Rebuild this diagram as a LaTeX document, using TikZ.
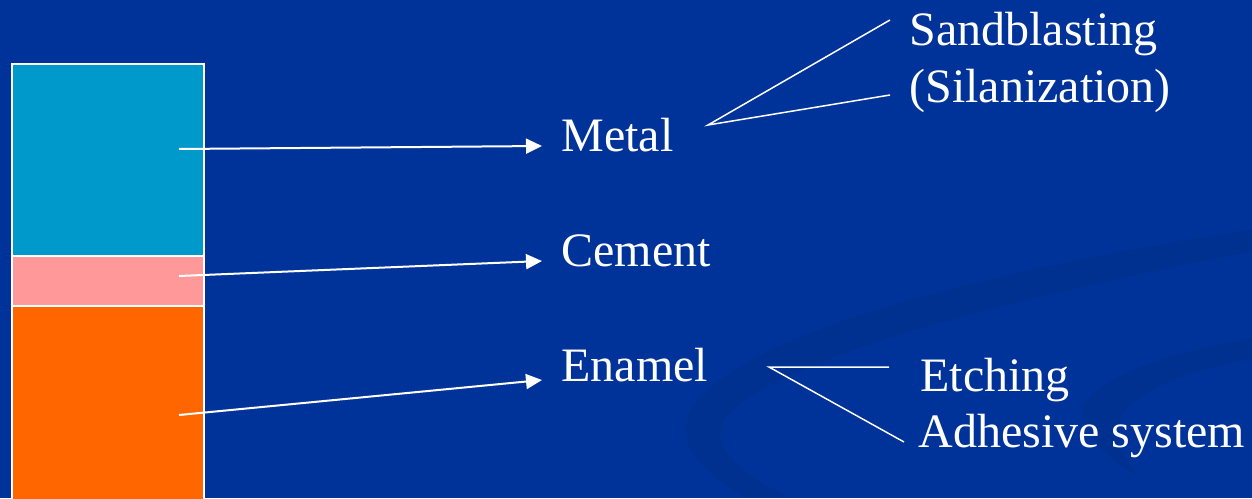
\documentclass[tikz,border=0pt]{standalone}
\usepackage{fontspec}
\setmainfont{Liberation Serif}
\usetikzlibrary{arrows.meta}
\definecolor{slidebg}{HTML}{003399}
\definecolor{swoosh}{HTML}{003190}
\definecolor{metalc}{HTML}{0099CC}
\definecolor{cementc}{HTML}{FF9999}
\definecolor{enamelc}{HTML}{FF6600}
\tikzset{
	layer/.style={draw=white, line width=0.75pt, inner sep=0pt, minimum width=96pt},
	lbl/.style={text=white, inner sep=0pt, anchor=base west, font=\fontsize{24}{28}\selectfont},
	pointer/.style={white, line width=1pt, -{Triangle[length=8pt,width=7.5pt]}},
	fork/.style={white, line width=0.75pt}
}
\begin{document}
\begin{tikzpicture}[x=0.5pt, y=-0.5pt]
	\fill[slidebg] (0,0) rectangle (1252,498);
	\useasboundingbox (0,0) rectangle (1252,498);
	
	% background swooshes
	\begin{scope}
		\clip (0,0) rectangle (1252,496);
		\fill[swoosh] (1260,228) .. controls (1000,268) and (740,330) .. (690,410)
			.. controls (672,445) and (705,478) .. (770,510) -- (815,510)
			.. controls (745,478) and (708,450) .. (724,420)
			.. controls (770,360) and (1000,300) .. (1260,250) -- cycle;
		\fill[swoosh] (1260,337) .. controls (1150,355) and (1080,385) .. (1083,415)
			.. controls (1086,440) and (1110,460) .. (1140,478)
			.. controls (1118,450) and (1108,425) .. (1130,405)
			.. controls (1160,380) and (1210,365) .. (1260,358) -- cycle;
	\end{scope}
	
	\node[layer, fill=metalc, minimum height=96pt] (metalblk) at (108,160){};
	\node[layer, fill=cementc, minimum height=25pt] (cementblk) at (108,281){};
	\node[layer, fill=enamelc, minimum height=97pt] (enamelblk) at (108,403){};
	
	\coordinate (m0) at (179,149);
	\coordinate (c0) at (179,276);
	\coordinate (e0) at (179,415);
	
	\node[lbl] (metal) at (561,151){Metal};
	\node[lbl] (cement) at (561,266){Cement};
	\node[lbl] (enamel) at (561,381){Enamel};
	
	\draw[pointer] (m0) to ([xshift=-9.5pt, yshift=2.5pt]metal.base west);
	\draw[pointer] (c0) to ([xshift=-9.5pt, yshift=2.5pt]cement.base west);
	\draw[pointer] (e0) to ([xshift=-9.5pt, yshift=0.5pt]enamel.base west);
	
	\node[lbl] (sand) at (909,46){Sandblasting};
	\node[lbl] (silan) at (909,102){(Silanization)};
	\node[lbl] (etch) at (920,391){Etching};
	\node[lbl] (adhes) at (918,447){Adhesive system};
	
	\coordinate (mfork) at (708,125);
	\coordinate (efork) at (769,367);
	\draw[fork] ([xshift=-9.5pt, yshift=13pt]sand.base west) -- (mfork) -- ([xshift=-9.5pt, yshift=3.5pt]silan.base west);
	\draw[fork] ([xshift=-15.5pt, yshift=12pt]etch.base west) -- (efork) -- ([xshift=-7pt, yshift=2.5pt]adhes.base west);
\end{tikzpicture}
\end{document}
